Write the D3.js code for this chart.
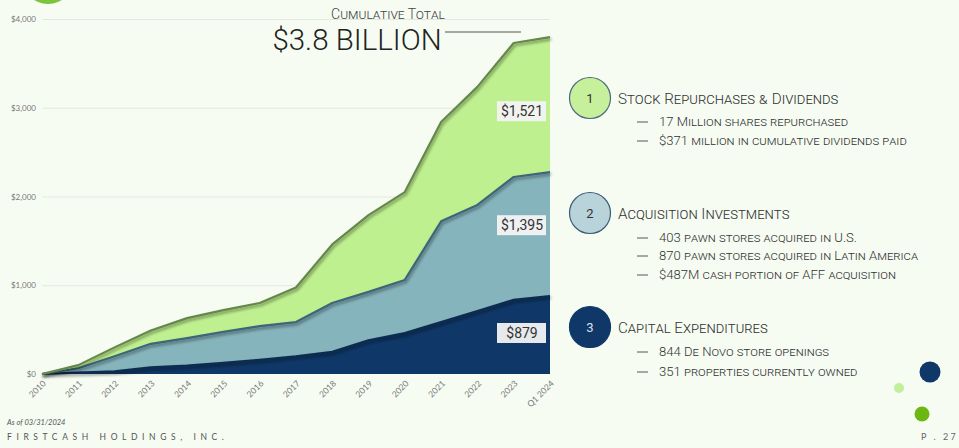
<!DOCTYPE html>
<html lang="en">
<head>
<meta charset="UTF-8">
<title>Cumulative Capital Allocation</title>
<script src="https://d3js.org/d3.v7.min.js"></script>
<style>
  body { margin: 0; background: #f6fcf2; }
  svg { display: block; }
</style>
</head>
<body>
<div id="chart"></div>
<script>
// ====== DATA (millions of $, cumulative) ======
var years = ["2010","2011","2012","2013","2014","2015","2016","2017","2018","2019","2020","2021","2022","2023","Q1 2024"];
var capex        = [0, 15, 30, 75, 95, 125, 160, 200, 250, 380, 460, 585, 710, 835, 879];
var acquisitions = [0, 50, 170, 265, 310, 350, 380, 385, 550, 545, 600, 1135, 1195, 1385, 1395];
var repurchases  = [0, 35, 100, 150, 225, 245, 260, 390, 660, 865, 990, 1120, 1330, 1510, 1521];
var yTicks = [0, 1000, 2000, 3000, 4000];
var endLabels = ["$879", "$1,395", "$1,521"];

var W = 959, H = 448;
var svg = d3.select("#chart").append("svg").attr("width", W).attr("height", H);

svg.append("rect").attr("width", W).attr("height", H).attr("fill", "#f6fcf2");

var defs = svg.append("defs");
var f = defs.append("filter").attr("id", "shadow").attr("x", "-5%").attr("y", "-5%").attr("width", "110%").attr("height", "120%");
f.append("feDropShadow").attr("dx", 1).attr("dy", 2).attr("stdDeviation", 1.4)
  .attr("flood-color", "#000").attr("flood-opacity", 0.45);

// decorative circle top-left
svg.append("circle").attr("cx", 48).attr("cy", -22).attr("r", 26).attr("fill", "#7cc43a");

// ====== SCALES ======
var x = d3.scalePoint().domain(years).range([42, 550]);
var y = d3.scaleLinear().domain([0, 4000]).range([374, 19]);

var table = years.map(function(d, i) {
  return {year: d, capex: capex[i], acquisitions: acquisitions[i], repurchases: repurchases[i]};
});
var keys = ["capex", "acquisitions", "repurchases"];
var series = d3.stack().keys(keys)(table);

var fills = {capex: "#0f3868", acquisitions: "#86b4bc", repurchases: "#bff090"};
var strokes = {capex: "#0b2a50", acquisitions: "#3d6678", repurchases: "#65874a"};

// gridlines
svg.append("g")
  .attr("transform", "translate(42,0)")
  .call(d3.axisLeft(y).tickValues(yTicks.slice(1)).tickSize(-508).tickFormat(""))
  .call(function(g) {
    g.select(".domain").remove();
    g.selectAll("line").attr("stroke", "#e4e8e2").attr("stroke-width", 1);
  });

// y labels
svg.append("g")
  .attr("transform", "translate(36,0)")
  .call(d3.axisLeft(y).tickValues(yTicks).tickSize(0).tickPadding(0)
    .tickFormat(function(d) { return "$" + d3.format(",")(d); }))
  .call(function(g) {
    g.select(".domain").remove();
    g.selectAll("text").attr("fill", "#777").style("font-family", "Lato").style("font-size", "8px");
  });

// ====== AREAS ======
var area = d3.area()
  .x(function(d) { return x(d.data.year); })
  .y0(function(d) { return y(d[0]); })
  .y1(function(d) { return y(d[1]); });
var topLine = d3.line()
  .x(function(d) { return x(d.data.year); })
  .y(function(d) { return y(d[1]); });

series.slice().reverse().forEach(function(s) {
  svg.append("path").datum(s).attr("d", area).attr("fill", fills[s.key]);
});
series.forEach(function(s) {
  svg.append("path").datum(s).attr("d", topLine)
    .attr("fill", "none").attr("stroke", strokes[s.key]).attr("stroke-width", 2.2)
    .attr("stroke-linejoin", "round").attr("filter", "url(#shadow)");
});

// x labels
svg.append("g")
  .attr("transform", "translate(0,374)")
  .call(d3.axisBottom(x).tickSize(0).tickPadding(0))
  .call(function(g) {
    g.select(".domain").remove();
    g.selectAll("text")
      .attr("fill", "#777").style("font-family", "Lato").style("font-size", "8.5px")
      .attr("text-anchor", "end").attr("dy", 0)
      .attr("transform", "translate(4,10) rotate(-45)");
  });

// end value labels (offset below each series top at the last point)
var last = table.length - 1;
var labelOffsets = [37, 53, 74];
series.forEach(function(s, i) {
  var cy = y(s[last][1]) + labelOffsets[i];
  var gl = svg.append("g").attr("transform", "translate(522," + cy + ")");
  gl.append("rect").attr("x", -25).attr("y", -10).attr("width", 49).attr("height", 20)
    .attr("fill", "#f3f3f3").attr("opacity", 0.95);
  gl.append("text").attr("text-anchor", "middle").attr("dy", "0.36em")
    .style("font-family", "Roboto").style("font-size", "14px").attr("fill", "#333")
    .text(endLabels[i]);
});

// ====== TITLE ======
svg.append("text").attr("x", 388).attr("y", 19).attr("text-anchor", "middle")
  .style("font-family", "Roboto").style("font-weight", 300).style("font-size", "14px")
  .style("font-variant", "small-caps").attr("fill", "#444").text("Cumulative Total");
svg.append("text").attr("x", 357).attr("y", 50).attr("text-anchor", "middle")
  .style("font-family", "Roboto").style("font-weight", 300).style("font-size", "29.5px")
  .attr("fill", "#222").text("$3.8 BILLION");
svg.append("line").attr("x1", 445).attr("x2", 521).attr("y1", 32).attr("y2", 32)
  .attr("stroke", "#555").attr("stroke-width", 1);

// ====== RIGHT PANEL ======
var panels = [
  {n: "1", cy: 98, fill: "#c6f09c", stroke: "#4d6a7c", numColor: "#333", head: "Stock Repurchases & Dividends",
   items: ["17 Million shares repurchased", "$371 million in cumulative dividends paid"]},
  {n: "2", cy: 213, fill: "#b8d3d9", stroke: "#3e5c78", numColor: "#333", head: "Acquisition Investments",
   items: ["403 pawn stores acquired in U.S.", "870 pawn stores acquired in Latin America", "$487M cash portion of AFF acquisition"]},
  {n: "3", cy: 327, fill: "#0f3868", stroke: "#0f3868", numColor: "#dde", head: "Capital Expenditures",
   items: ["844 De Novo store openings", "351 properties currently owned"]}
];
var itemGaps = [[28, 47], [29, 47, 66], [29, 49]];

panels.forEach(function(p, i) {
  svg.append("circle").attr("cx", 590).attr("cy", p.cy).attr("r", 20.5)
    .attr("fill", p.fill).attr("stroke", p.stroke).attr("stroke-width", 1.2);
  svg.append("text").attr("x", 590).attr("y", p.cy).attr("dy", "0.36em").attr("text-anchor", "middle")
    .style("font-family", "Roboto").style("font-size", "13px").attr("fill", p.numColor).text(p.n);
  svg.append("text").attr("x", 618).attr("y", p.cy + 6)
    .style("font-family", "Roboto").style("font-weight", 300).style("font-size", "15.2px")
    .style("font-variant", "small-caps").attr("fill", "#333").text(p.head);
  p.items.forEach(function(t, j) {
    var yy = p.cy + itemGaps[i][j];
    svg.append("line").attr("x1", 637).attr("x2", 648).attr("y1", yy - 4).attr("y2", yy - 4)
      .attr("stroke", "#444").attr("stroke-width", 0.9);
    svg.append("text").attr("x", 659).attr("y", yy)
      .style("font-family", "Roboto").style("font-weight", 300).style("font-size", "13.1px")
      .style("font-variant", "small-caps").attr("fill", "#333").text(t);
  });
});

// decoration dots
svg.append("circle").attr("cx", 930).attr("cy", 372).attr("r", 10.5).attr("fill", "#0f3868");
svg.append("circle").attr("cx", 899).attr("cy", 388).attr("r", 5).attr("fill", "#c3ee9c");
svg.append("circle").attr("cx", 922).attr("cy", 414).attr("r", 7.5).attr("fill", "#6bb815");

// footer
svg.append("text").attr("x", 7).attr("y", 425)
  .style("font-family", "Lato").style("font-style", "italic").style("font-size", "7.5px")
  .attr("fill", "#555").text("As of 03/31/2024");
svg.append("text").attr("x", 7).attr("y", 440)
  .style("font-family", "Lato").style("font-size", "8.5px").style("letter-spacing", "4.6px")
  .attr("fill", "#555").text("FIRSTCASH HOLDINGS, INC.");
svg.append("text").attr("x", 921).attr("y", 440)
  .style("font-family", "Lato").style("font-size", "9px").style("letter-spacing", "2.5px")
  .attr("fill", "#666").text("P . 27");
</script>
</body>
</html>
